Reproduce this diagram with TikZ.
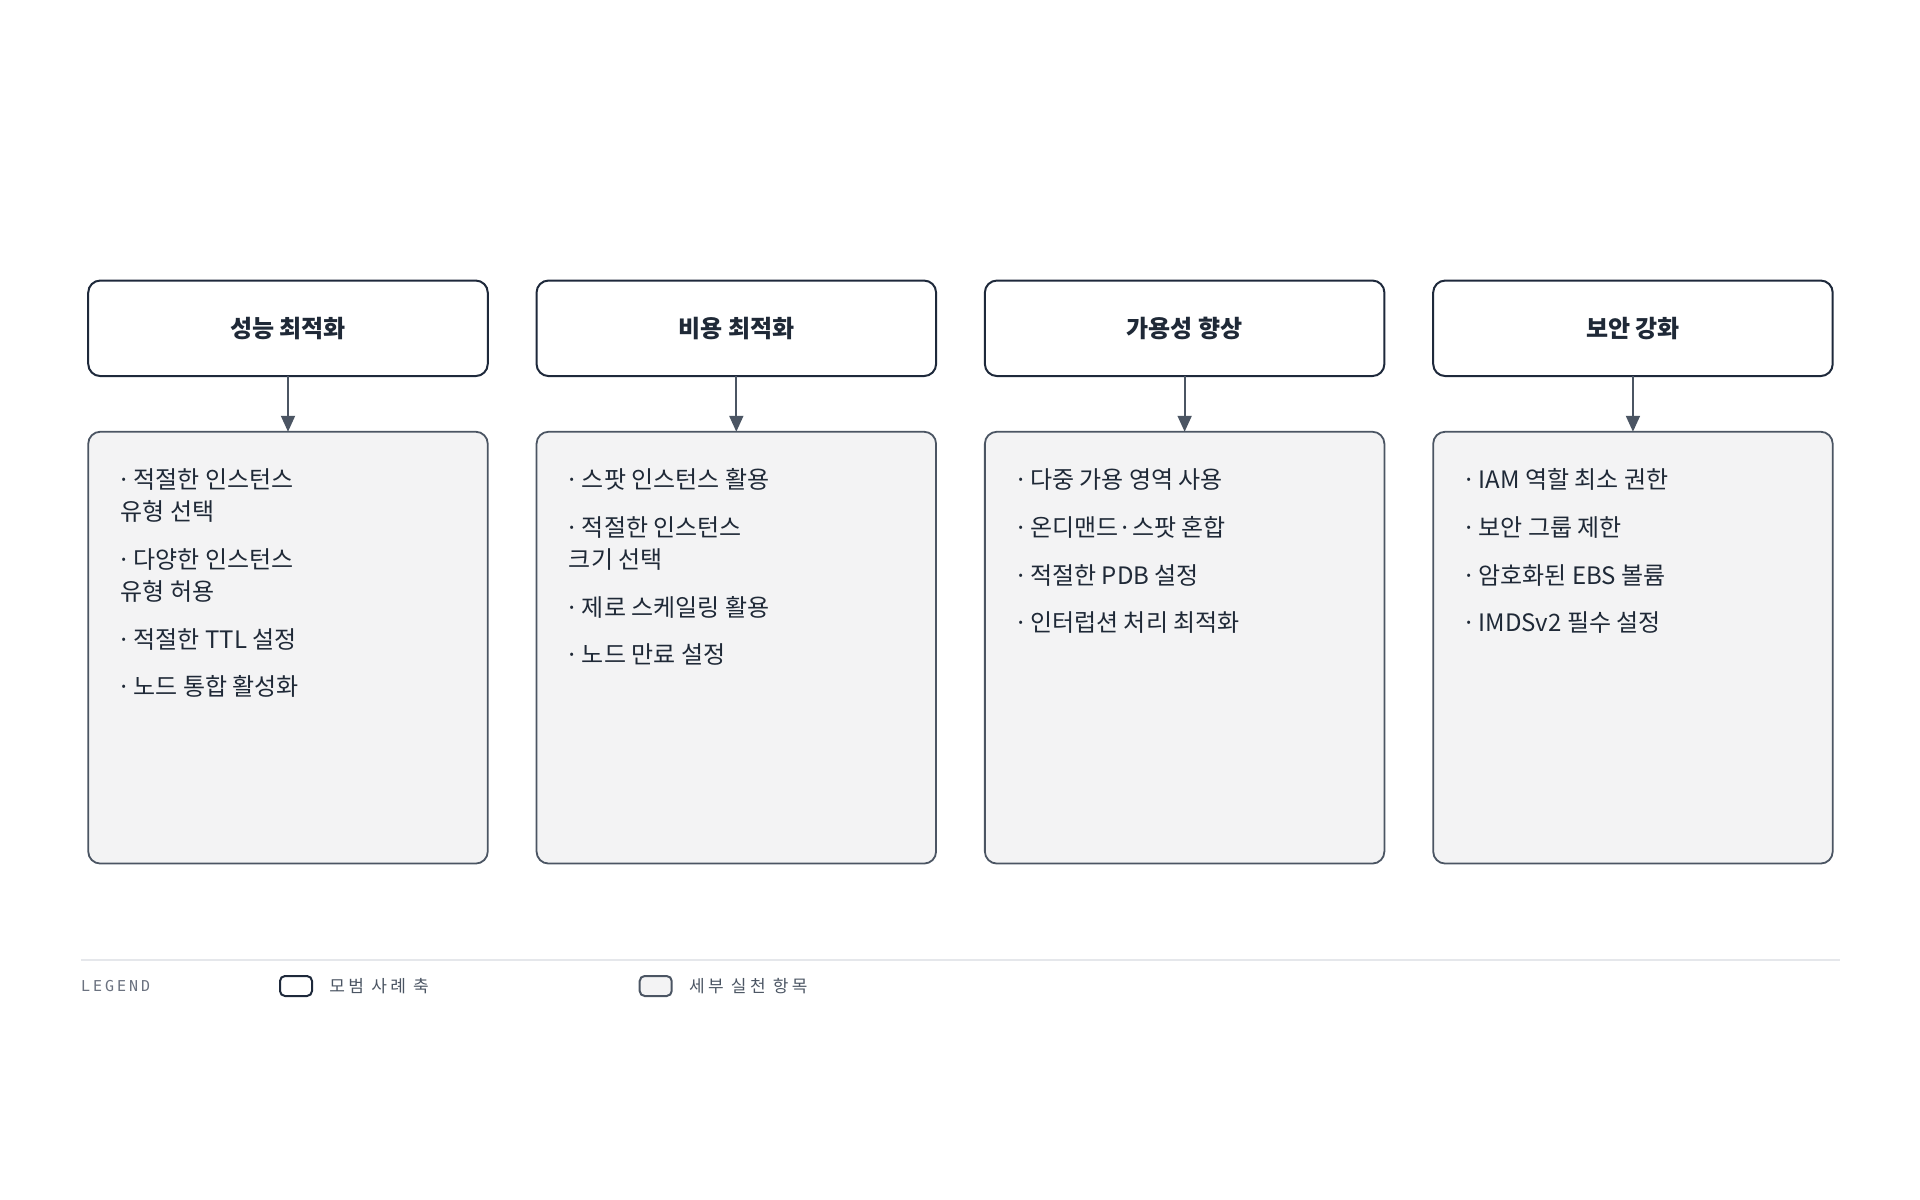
\documentclass[tikz,border=0pt]{standalone}
\usepackage{fontspec}
\setmainfont{Noto Sans CJK KR}
\newfontfamily\legendfont[LetterSpace=20]{Noto Sans CJK KR}
\newfontfamily\legendmono[LetterSpace=20]{DejaVu Sans Mono}
\usetikzlibrary{arrows.meta,positioning}
\definecolor{ink}{HTML}{1F2937}
\definecolor{navy}{HTML}{1E293B}
\definecolor{slate}{HTML}{4B5563}
\definecolor{paper}{HTML}{F3F3F4}
\definecolor{rule}{HTML}{E5E7EB}
\definecolor{mute}{HTML}{6B7280}
\newcommand{\dotmark}{\makebox[6.5bp][l]{\hspace{-1.5bp}·}}
\tikzset{
axisbox/.style={
  rectangle,
  rounded corners=6bp,
  line width=1bp,
  outer sep=0pt,
  minimum width=199.75bp,
  minimum height=47.75bp,
  draw=navy,
  fill=white,
  text=ink,
  font=\fontsize{12bp}{14bp}\selectfont\bfseries,
  }
}
\tikzset{
practicebox/.style={
  rectangle,
  rounded corners=6bp,
  line width=0.9bp,
  outer sep=0pt,
  minimum width=199.75bp,
  minimum height=215.9bp,
  draw=slate,
  fill=paper,
  }
}
\tikzset{
itemtext/.style={
  inner sep=0pt,
  align=left,
  text=ink,
  font=\fontsize{12bp}{16bp}\selectfont,
  }
}
\tikzset{
myline/.style={
  line width=1bp,
  draw=slate,
  -{Triangle[length=8bp,width=7bp]}
  }
}

\begin{document}
\begin{tikzpicture}[x=0.5bp,y=-0.5bp]
    \useasboundingbox (0,0) rectangle (1920,1200);
    \begin{scope}[node distance=27.85bp and 24.4bp]
    % axis part
    \node[axisbox] (perf) at (288,328.3) {성능 최적화};
    \node[axisbox, right=of perf] (cost) {비용 최적화};
    \node[axisbox, right=of cost] (avail) {가용성 향상};
    \node[axisbox, right=of avail] (secu) {보안 강화};
    
    % practice part
    \node[practicebox, below=of perf] (perf_p) {};
    \node[practicebox, below=of cost] (cost_p) {};
    \node[practicebox, below=of avail] (avail_p) {};
    \node[practicebox, below=of secu] (secu_p) {};
    \end{scope}
    
    % axis edges
	\draw[myline] (perf) -- (perf_p);
	\draw[myline] (cost) -- (cost_p);
	\draw[myline] (avail) -- (avail_p);
	\draw[myline] (secu) -- (secu_p);
	
    \begin{scope}[node distance=7.5bp]
	% performance items
    \node[itemtext, below right=17bp and 16bp of perf_p.north west, anchor=north west] (perf1) {\dotmark 적절한 인스턴스\strut\\유형 선택\strut};
    \node[itemtext, below=of perf1.south west, anchor=north west] (perf2) {\dotmark 다양한 인스턴스\strut\\유형 허용\strut};
    \node[itemtext, below=of perf2.south west, anchor=north west] (perf3) {\dotmark 적절한 TTL 설정\strut};
    \node[itemtext, below=of perf3.south west, anchor=north west] (perf4) {\dotmark 노드 통합 활성화\strut};
    
    % cost items
    \node[itemtext, below right=17bp and 16bp of cost_p.north west, anchor=north west] (cost1) {\dotmark 스팟 인스턴스 활용\strut};
    \node[itemtext, below=of cost1.south west, anchor=north west] (cost2) {\dotmark 적절한 인스턴스\strut\\크기 선택\strut};
    \node[itemtext, below=of cost2.south west, anchor=north west] (cost3) {\dotmark 제로 스케일링 활용\strut};
    \node[itemtext, below=of cost3.south west, anchor=north west] (cost4) {\dotmark 노드 만료 설정\strut};
    
    % availability items
    \node[itemtext, below right=17bp and 16bp of avail_p.north west, anchor=north west] (avail1) {\dotmark 다중 가용 영역 사용\strut};
    \node[itemtext, below=of avail1.south west, anchor=north west] (avail2) {\dotmark 온디맨드·스팟 혼합\strut};
    \node[itemtext, below=of avail2.south west, anchor=north west] (avail3) {\dotmark 적절한 PDB 설정\strut};
    \node[itemtext, below=of avail3.south west, anchor=north west] (avail4) {\dotmark 인터럽션 처리 최적화\strut};
    
    % security items
    \node[itemtext, below right=17bp and 16bp of secu_p.north west, anchor=north west] (secu1) {\dotmark IAM 역할 최소 권한\strut};
    \node[itemtext, below=of secu1.south west, anchor=north west] (secu2) {\dotmark 보안 그룹 제한\strut};
    \node[itemtext, below=of secu2.south west, anchor=north west] (secu3) {\dotmark 암호화된 EBS 볼륨\strut};
    \node[itemtext, below=of secu3.south west, anchor=north west] (secu4) {\dotmark IMDSv2 필수 설정\strut};
    \end{scope}
    
    % legend
    \draw[rule, line width=1bp] (80.6,960) -- (1840,960);
    \node[anchor=west, inner sep=0pt, text=mute, font=\legendmono\fontsize{7.5bp}{9bp}\selectfont] (legend) at (80.6,986) {LEGEND};
    \node[draw=navy, fill=white, line width=1bp, rounded corners=2.5bp, minimum width=16bp, minimum height=10bp, inner sep=0pt] (key_axis) at (296,986) {};
    \node[right=8bp of key_axis, inner sep=0pt, text=slate, font=\legendfont\fontsize{8.5bp}{10bp}\selectfont] (key_axis_t) {모범 사례 축};
    \node[draw=slate, fill=paper, line width=1bp, rounded corners=2.5bp, minimum width=16bp, minimum height=10bp, inner sep=0pt] (key_prac) at (655.7,986) {};
    \node[right=8bp of key_prac, inner sep=0pt, text=slate, font=\legendfont\fontsize{8.5bp}{10bp}\selectfont] (key_prac_t) {세부 실천 항목};
  \end{tikzpicture}
\end{document}
